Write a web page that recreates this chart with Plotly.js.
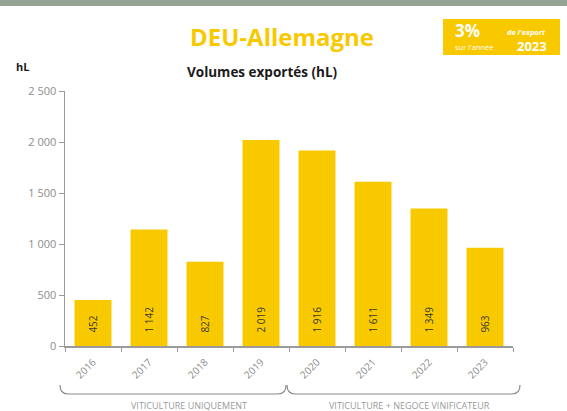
<!DOCTYPE html>
<html>
<head>
<meta charset="utf-8">
<script src="https://cdn.plot.ly/plotly-3.0.1.min.js"></script>
<style>html,body{margin:0;padding:0;background:#fff;}#chart{width:567px;height:411px;}</style>
</head>
<body>
<div id="chart"></div>
<script>
const years = ['2016','2017','2018','2019','2020','2021','2022','2023'];
const volumes = [452, 1142, 827, 2019, 1916, 1611, 1349, 963];
const volumeLabels = ['452','1 142','827','2 019','1 916','1 611','1 349','963'];
const groupLabels = ['VITICULTURE UNIQUEMENT', 'VITICULTURE + NEGOCE VINIFICATEUR'];

const W = 567, H = 411;
const L = 65, R = 513, T = 91, B = 346;
const px = x => (x - L) / (R - L);
const py = y => (B - y) / (B - T);
const YEL = '#f9c900';
const FONT = 'Open Sans, Lato, sans-serif';
const PAD = '\u00a0\u00a0\u00a0\u00a0';

function bracketPath(x0, x1, yTop, yBot, r) {
  return 'M ' + px(x0) + ',' + py(yTop) +
    ' Q ' + px(x0) + ',' + py(yBot) + ' ' + px(x0 + r) + ',' + py(yBot) +
    ' L ' + px(x1 - r) + ',' + py(yBot) +
    ' Q ' + px(x1) + ',' + py(yBot) + ' ' + px(x1) + ',' + py(yTop);
}

const trace = {
  type: 'bar',
  x: years,
  y: volumes,
  text: volumeLabels.map(t => PAD + t),
  textposition: 'inside',
  insidetextanchor: 'start',
  textangle: -90,
  textfont: {family: FONT, size: 10, color: '#3a3a3a'},
  marker: {color: YEL},
  hoverinfo: 'skip',
  cliponaxis: false
};

const layout = {
  width: W, height: H,
  margin: {l: L, r: W - R, t: T, b: H - B, pad: 0},
  paper_bgcolor: '#ffffff',
  plot_bgcolor: '#ffffff',
  showlegend: false,
  bargap: 0.34,
  separators: ', ',
  font: {family: FONT},
  xaxis: {
    type: 'category',
    showgrid: false,
    zeroline: false,
    showline: true,
    linecolor: '#9a9a9a',
    linewidth: 1.5,
    ticks: 'outside',
    tickson: 'boundaries',
    ticklen: 4,
    tickcolor: '#9a9a9a',
    tickangle: -45,
    ticklabelstandoff: 5,
    tickfont: {family: FONT, size: 10, color: '#8c8c8c'},
    range: [-0.5, 7.5]
  },
  yaxis: {
    range: [0, 2500],
    tickvals: [0, 500, 1000, 1500, 2000, 2500],
    tickformat: ',d',
    showgrid: false,
    zeroline: false,
    showline: true,
    linecolor: '#9a9a9a',
    linewidth: 1.5,
    ticks: 'outside',
    ticklen: 5,
    tickcolor: '#9a9a9a',
    tickfont: {family: FONT, size: 11, color: '#8c8c8c'}
  },
  shapes: [
    {type: 'rect', xref: 'paper', yref: 'paper', x0: px(0), x1: px(W), y0: py(6), y1: py(0),
     fillcolor: '#94a394', line: {width: 0}, layer: 'below'},
    {type: 'rect', xref: 'paper', yref: 'paper', x0: px(443), x1: px(560), y0: py(55), y1: py(19),
     fillcolor: YEL, line: {width: 0}},
    {type: 'path', xref: 'paper', yref: 'paper', path: bracketPath(60, 286, 385, 394, 8),
     line: {color: '#8a8a8a', width: 1.2}},
    {type: 'path', xref: 'paper', yref: 'paper', path: bracketPath(287, 520, 385, 394, 8),
     line: {color: '#8a8a8a', width: 1.2}}
  ],
  annotations: [
    {xref: 'paper', yref: 'paper', x: px(282), y: py(36), text: '<b>DEU-Allemagne</b>', showarrow: false,
     xanchor: 'center', yanchor: 'middle', font: {family: FONT, size: 24, color: YEL}},
    {xref: 'paper', yref: 'paper', x: px(262), y: py(72), text: '<b>Volumes exportés (hL)</b>', showarrow: false,
     xanchor: 'center', yanchor: 'middle', font: {family: FONT, size: 13.5, color: '#1a1a1a'}},
    {xref: 'paper', yref: 'paper', x: px(14), y: py(67), text: '<b>hL</b>', showarrow: false,
     xanchor: 'left', yanchor: 'middle', font: {family: FONT, size: 11, color: '#1a1a1a'}},
    {xref: 'paper', yref: 'paper', x: px(453), y: py(31), text: '<b>3%</b>', showarrow: false,
     xanchor: 'left', yanchor: 'middle', font: {family: FONT, size: 17, color: '#ffffff'}},
    {xref: 'paper', yref: 'paper', x: px(548), y: py(32), text: '<b><i>de l\'export</i></b>', showarrow: false,
     xanchor: 'right', yanchor: 'middle', font: {family: FONT, size: 7.5, color: '#ffffff'}},
    {xref: 'paper', yref: 'paper', x: px(453), y: py(47), text: 'sur l\'année', showarrow: false,
     xanchor: 'left', yanchor: 'middle', font: {family: FONT, size: 7.5, color: '#ffffff'}},
    {xref: 'paper', yref: 'paper', x: px(549), y: py(46), text: '<b>2023</b>', showarrow: false,
     xanchor: 'right', yanchor: 'middle', font: {family: FONT, size: 13, color: '#ffffff'}},
    {xref: 'paper', yref: 'paper', x: px(189), y: py(405), text: groupLabels[0], showarrow: false,
     xanchor: 'center', yanchor: 'middle', font: {family: FONT, size: 9, color: '#9a9a9a'}},
    {xref: 'paper', yref: 'paper', x: px(409), y: py(405), text: groupLabels[1], showarrow: false,
     xanchor: 'center', yanchor: 'middle', font: {family: FONT, size: 9, color: '#9a9a9a'}}
  ]
};

Plotly.newPlot('chart', [trace], layout, {displayModeBar: false, staticPlot: true});
</script>
</body>
</html>
